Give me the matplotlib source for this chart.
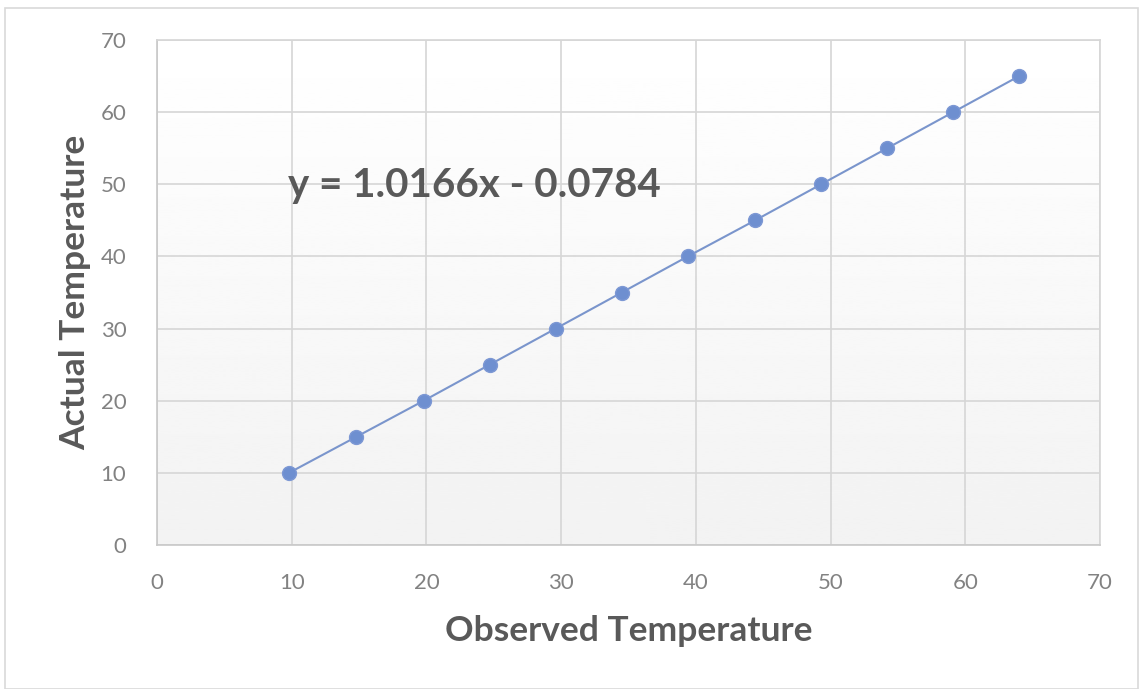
import matplotlib
matplotlib.use("Agg")
import matplotlib.pyplot as plt
import numpy as np
from matplotlib.patches import Rectangle

observed = [9.8, 14.8, 19.8, 24.7, 29.6, 34.5, 39.4, 44.4, 49.3, 54.2, 59.1, 64.0]
actual = [10, 15, 20, 25, 30, 35, 40, 45, 50, 55, 60, 65]
ticks = [0, 10, 20, 30, 40, 50, 60, 70]
equation = "y = 1.0166x - 0.0784"

plt.rcParams['font.family'] = ['Lato', 'DejaVu Sans']

W, H = 1143, 689
fig = plt.figure(figsize=(W / 100, H / 100), dpi=100)
fig.patch.set_facecolor('white')

# outer chart border
fig.patches.append(Rectangle((5 / W, 0), (1138 - 5) / W, (H - 8) / H,
                             transform=fig.transFigure, fill=False,
                             edgecolor='#d9d9d9', linewidth=1.2))

left, right, top, bottom = 157, 1100, 40, 545
ax = fig.add_axes([left / W, 1 - bottom / H, (right - left) / W, (bottom - top) / H])

# subtle vertical gradient background
grad = np.linspace(0.95, 1.0, 256).reshape(-1, 1)
ax.imshow(grad, extent=[0, 70, 0, 70], cmap='gray', vmin=0, vmax=1,
          aspect='auto', origin='lower', zorder=0)

ax.set_xlim(0, 70)
ax.set_ylim(0, 70)
ax.set_xticks(ticks)
ax.set_yticks(ticks)
ax.grid(True, color='#d6d6d6', linewidth=1.2, zorder=1)
ax.set_axisbelow(True)
for s in ax.spines.values():
    s.set_color('#d6d6d6')
    s.set_linewidth(1.2)
ax.spines['left'].set_color('#c8c8c8')
ax.spines['bottom'].set_color('#c8c8c8')

ax.tick_params(length=0, labelsize=16, labelcolor='#828282')
ax.tick_params(axis='y', pad=22)
ax.tick_params(axis='x', pad=20)

ax.plot(observed, actual, color='#7a95cc', linewidth=1.5, marker='o',
        markersize=10, markerfacecolor='#6e8fd0', markeredgecolor='#7d98d4',
        zorder=3)

ax.text(9.7, 49.9, equation, fontsize=29, fontweight='bold', color='#595959',
        ha='left', va='center', zorder=4)

ax.set_xlabel('Observed Temperature', fontsize=25.5, fontweight='bold',
              color='#595959', labelpad=16)
ax.set_ylabel('Actual Temperature', fontsize=25.5, fontweight='bold',
              color='#595959', labelpad=7)

fig.savefig('out.png', dpi=100)
